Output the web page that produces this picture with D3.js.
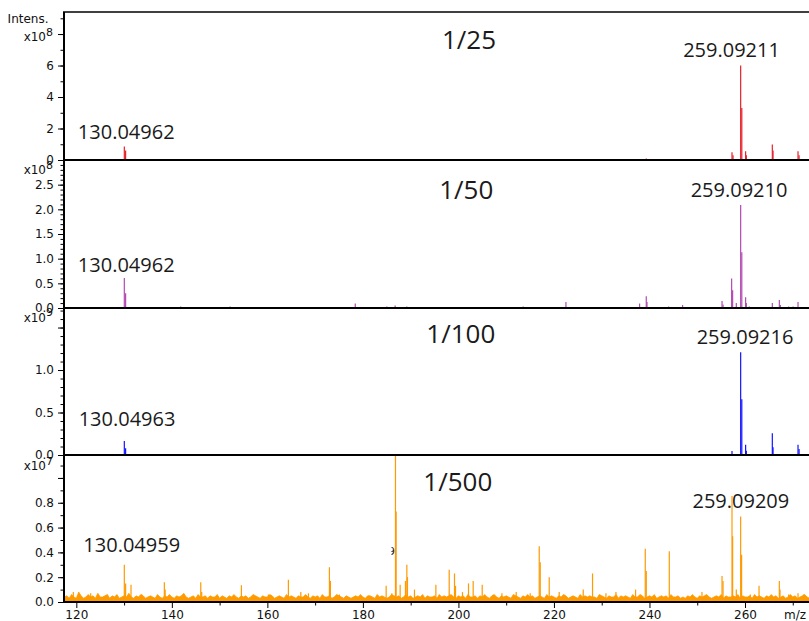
<!DOCTYPE html>
<html>
<head>
<meta charset="utf-8">
<script src="https://cdn.jsdelivr.net/npm/d3@7"></script>
<style>
  body { margin: 0; background: #fff; }
  svg { display: block; }
</style>
</head>
<body>
<svg id="chart" width="809" height="621"></svg>
<script>
// ---- data -------------------------------------------------------------
const mzDomain = [117.42, 273.4];
const dilutions = ["1/25", "1/50", "1/100", "1/500"];
const exponents = [8, 8, 9, 7];
const yMax = [9.4, 3.0, 1.73, 1.185];          // top of each panel, in units of 10^exp
const baseLabels = ["130.04962", "130.04962", "130.04963", "130.04959"];
const mainLabels = ["259.09211", "259.09210", "259.09216", "259.09209"];

// sticks: [m/z, intensity in units of 10^exp]
const sticks25 = [
  [130.04962, 0.85], [130.32, 0.6], [152.19, 0.02], [159.31, 0.02], [186.75, 0.03],
  [239.33, 0.1], [255.19, 0.03], [257.28, 0.49], [257.49, 0.3],
  [259.09211, 6.0], [259.33, 3.3], [260.13, 0.55], [260.28, 0.3],
  [265.72, 0.98], [265.87, 0.6], [271.1, 0.55], [271.32, 0.3]
];
const sticks50 = [
  [130.04962, 0.61], [130.32, 0.3], [141.86, 0.03], [152.19, 0.03], [168.05, 0.02],
  [169.43, 0.02], [178.4, 0.09], [185.01, 0.03], [186.75, 0.05], [189.2, 0.03],
  [195.2, 0.02], [199.1, 0.02], [209.1, 0.02], [213.55, 0.03], [215.73, 0.02],
  [217.82, 0.02], [222.51, 0.12], [226.9, 0.02], [231.79, 0.02], [232.84, 0.02],
  [234.03, 0.02], [237.17, 0.02], [237.93, 0.09], [239.33, 0.24], [239.48, 0.12],
  [241.9, 0.02], [244.0, 0.03], [245.97, 0.02], [246.93, 0.06], [255.19, 0.14],
  [255.4, 0.07], [257.2, 0.6], [257.41, 0.36], [258.18, 0.1],
  [259.0921, 2.09], [259.33, 1.13], [260.13, 0.22], [260.28, 0.1], [260.9, 0.03],
  [265.72, 0.1], [267.19, 0.16], [267.4, 0.06], [269.14, 0.03], [270.06, 0.03], [271.1, 0.12]
];
const sticks100 = [
  [130.04963, 0.165], [130.32, 0.08], [152.19, 0.005], [159.31, 0.005], [162.66, 0.004],
  [189.75, 0.006], [232.98, 0.008], [239.33, 0.01], [257.28, 0.047],
  [259.09216, 1.21], [259.33, 0.655], [260.13, 0.12], [260.28, 0.05],
  [265.72, 0.255], [265.87, 0.09], [271.1, 0.12], [271.32, 0.07]
];
const sticks500 = [
  [119.37, 0.08], [123.01, 0.07], [130.04959, 0.30], [130.32, 0.15], [131.45, 0.14],
  [133.7, 0.06], [138.43, 0.16], [138.6, 0.1], [146.05, 0.16], [146.25, 0.08],
  [154.56, 0.135], [160.21, 0.06], [164.4, 0.18], [167.0, 0.08], [168.6, 0.07],
  [172.99, 0.28], [173.2, 0.17], [175.09, 0.06], [184.87, 0.13], [186.06, 0.07],
  [186.82, 1.3], [186.96, 0.73], [187.8, 0.14], [188.91, 0.17], [189.2, 0.30],
  [189.33, 0.2], [190.8, 0.1], [195.28, 0.14], [198.07, 0.26], [199.18, 0.23],
  [199.39, 0.13], [200.85, 0.08], [202.11, 0.15], [203.09, 0.17], [204.98, 0.14],
  [209.1, 0.07], [212.1, 0.08], [215.03, 0.07], [216.92, 0.45], [217.13, 0.32],
  [219.01, 0.2], [221.1, 0.08], [226.13, 0.1], [228.08, 0.23], [230.89, 0.07],
  [232.98, 0.08], [237.09, 0.1], [239.12, 0.43], [239.33, 0.25], [244.15, 0.41],
  [250.99, 0.08], [255.19, 0.21], [255.4, 0.17], [257.28, 0.855], [257.41, 0.53],
  [258.18, 0.1], [259.09209, 0.69], [259.29, 0.38], [261.12, 0.06], [262.94, 0.13],
  [267.19, 0.17], [267.33, 0.1], [269.14, 0.06], [271.1, 0.07], [272.28, 0.06]
];
const sticks = [sticks25, sticks50, sticks100, sticks500];

// baseline noise of the 1/500 trace, every 0.5 m/z from 117.5, in units of 10^5
const noiseStart = 117.5, noiseStep = 0.5;
const noise500 = [
  4,5,3,6,4,3,8,5,3,4,6,4,5,3,7,4,4,5,6,3,
  5,4,6,3,4,5,4,7,4,3,5,4,6,5,3,4,5,4,3,6,
  4,3,5,4,6,4,3,5,4,5,7,4,3,4,5,3,6,4,4,5,
  3,5,4,4,6,3,5,4,3,5,4,6,4,3,5,4,5,3,4,6,
  5,4,3,5,4,4,6,5,3,4,5,4,3,6,4,5,4,3,5,4,
  4,6,4,3,5,4,5,3,6,4,4,5,3,4,6,5,4,3,5,4,
  3,4,5,4,6,4,3,5,5,4,3,6,4,5,4,3,4,6,5,4,
  5,3,4,6,4,5,3,4,5,4,6,3,5,4,4,5,3,6,4,5,
  4,5,6,4,3,5,4,5,3,6,4,4,5,3,5,4,6,4,3,5,
  6,4,3,5,4,5,4,3,6,5,4,3,5,4,6,4,5,3,4,5,
  4,3,6,4,5,4,3,5,4,6,5,3,4,5,4,3,6,4,5,4,
  5,4,4,3,6,5,4,3,5,4,4,6,3,5,4,5,4,3,6,4,
  4,6,5,3,4,5,4,6,3,4,5,4,5,3,6,4,4,5,3,4,
  3,5,4,6,4,3,5,4,5,6,4,3,4,5,4,6,3,5,4,4,
  5,4,6,3,5,4,4,5,3,6,4,5,4,3,5,4,6,4,5,3,
  4,5,3,4,6,4,5,3,4,5,6,4,3,5,4,4,6,5,3,4
];

// axis ticks per panel
const majorTicks = [
  [0, 2, 4, 6, 8],
  [0, 0.5, 1.0, 1.5, 2.0, 2.5, 3.0],
  [0, 0.5, 1.0, 1.5],
  [0, 0.2, 0.4, 0.6, 0.8, 1.0]
];
const labelledTicks = [
  [0, 2, 4, 6],
  [0, 0.5, 1.0, 1.5, 2.0, 2.5],
  [0, 0.5, 1.0],
  [0, 0.2, 0.4, 0.6, 0.8]
];
const minorStep = [1, 0.1, 0.1, 0.1];
const tickFormats = ["d", ".1f", ".1f", ".1f"];
const xMajorTicks = [120, 140, 160, 180, 200, 220, 240, 260];
const xMinorTicks = [130, 150, 170, 190, 210, 230, 250, 270];

// ---- layout & style ---------------------------------------------------
const colors = ["#e8202a", "#b44ab4", "#1414ff", "#ff9a00"];
const plotLeft = 64, plotRight = 809;
const panelEdges = [12, 160, 308, 455, 602];
const titlePos = [[469, 49.3], [466.3, 199.3], [460.8, 343.3], [457.8, 490.7]];
const baseLabelOff = [[1.9, 127.3], [1.9, 111.7], [2.7, 117.7], [7.4, 97.3]];
const mainLabelOff = [[-9.1, 44.7], [-1.6, 36.7], [4.4, 36.3], [0.2, 53.3]];
const expBaseline = [41, 174.3, 321.7, 470];

const svg = d3.select("#chart");
const defs = svg.append("defs");
const x = d3.scaleLinear().domain(mzDomain).range([plotLeft, plotRight]);

const axisFont = "'DejaVu Sans', Verdana, sans-serif";
const annFont = "'Open Sans', 'Noto Sans', sans-serif";

function styleAxis(sel) {
  sel.select(".domain").remove();
  sel.selectAll(".tick line").attr("stroke", "#000").attr("stroke-width", 1);
  sel.selectAll(".tick text").attr("fill", "#111")
    .style("font-family", axisFont).style("font-size", "12px");
}

// stick whose m/z equals the value printed in a label
function stickFor(list, label) {
  const v = parseFloat(label);
  return list.reduce((best, d) => Math.abs(d[0] - v) < Math.abs(best[0] - v) ? d : best, list[0]);
}

dilutions.forEach((title, i) => {
  const top = panelEdges[i], bottom = panelEdges[i + 1];
  const y = d3.scaleLinear().domain([0, yMax[i]]).range([bottom, top]);
  const g = svg.append("g");

  defs.append("clipPath").attr("id", "clip" + i)
    .append("rect").attr("x", plotLeft).attr("y", top)
    .attr("width", plotRight - plotLeft).attr("height", bottom - top);
  const plot = g.append("g").attr("clip-path", `url(#clip${i})`);

  if (i === 3) {
    const pts = noise500.map((v, k) => [noiseStart + k * noiseStep, v / 100]);
    plot.append("path").datum(pts)
      .attr("d", d3.area().x(d => x(d[0])).y0(y(0)).y1(d => y(d[1])))
      .attr("fill", colors[i]).attr("stroke", colors[i]).attr("stroke-width", 0.8);
  }

  plot.selectAll("line.peak").data(sticks[i]).join("line")
    .attr("class", "peak")
    .attr("x1", d => x(d[0])).attr("x2", d => x(d[0]))
    .attr("y1", y(0)).attr("y2", d => y(d[1]))
    .attr("stroke", colors[i]).attr("stroke-width", 1.2);

  // y axis: minor then major ticks
  const minor = d3.range(0, yMax[i] + 1e-9, minorStep[i]).map(v => +v.toFixed(3));
  g.append("g").attr("transform", `translate(${plotLeft},0)`)
    .call(d3.axisLeft(y).tickValues(minor).tickSize(3.5).tickSizeOuter(0).tickFormat(""))
    .call(styleAxis);
  const fmt = d3.format(tickFormats[i]);
  const lab = labelledTicks[i];
  g.append("g").attr("transform", `translate(${plotLeft},0)`)
    .call(d3.axisLeft(y).tickValues(majorTicks[i]).tickSize(6).tickPadding(4).tickSizeOuter(0)
      .tickFormat(v => lab.some(t => Math.abs(t - v) < 1e-9) ? fmt(v) : ""))
    .call(styleAxis);

  // exponent label
  g.append("text").attr("x", 46).attr("y", expBaseline[i]).attr("text-anchor", "end")
    .style("font-family", axisFont).style("font-size", "12px").attr("fill", "#111").text("x10");
  g.append("text").attr("x", 46).attr("y", expBaseline[i] - 5.5)
    .style("font-family", axisFont).style("font-size", "11px").attr("fill", "#111").text(exponents[i]);

  // dilution title
  g.append("text").attr("x", titlePos[i][0]).attr("y", titlePos[i][1]).attr("text-anchor", "middle")
    .style("font-family", annFont).style("font-size", "26px").attr("fill", "#1a1a1a").text(title);

  // peak annotations, placed over the sticks they name
  const baseMz = stickFor(sticks[i], baseLabels[i])[0];
  const mainMz = stickFor(sticks[i], mainLabels[i])[0];
  g.append("text").attr("x", x(baseMz) + baseLabelOff[i][0]).attr("y", top + baseLabelOff[i][1])
    .attr("text-anchor", "middle").style("font-family", annFont).style("font-size", "20px")
    .attr("fill", "#1a1a1a").text(baseLabels[i]);
  g.append("text").attr("x", x(mainMz) + mainLabelOff[i][0]).attr("y", top + mainLabelOff[i][1])
    .attr("text-anchor", "middle").style("font-family", annFont).style("font-size", "20px")
    .attr("fill", "#1a1a1a").text(mainLabels[i]);
});

// partly hidden label fragment beside the 186.8 peak
defs.append("clipPath").attr("id", "fragClip")
  .append("rect").attr("x", 391.5).attr("y", 540).attr("width", 8).attr("height", 20);
svg.append("text").attr("x", 388).attr("y", 554.5).attr("clip-path", "url(#fragClip)")
  .style("font-family", axisFont).style("font-size", "11px").attr("fill", "#222").text("9");

// intensity caption
svg.append("text").attr("x", 48.5).attr("y", 22.7).attr("text-anchor", "end")
  .style("font-family", axisFont).style("font-size", "12px").attr("fill", "#111").text("Intens.");

// x axis
const xAxisY = panelEdges[4];
svg.append("g").attr("transform", `translate(0,${xAxisY})`)
  .call(d3.axisBottom(x).tickValues(xMinorTicks).tickSize(3.5).tickSizeOuter(0).tickFormat(""))
  .call(styleAxis);
svg.append("g").attr("transform", `translate(0,${xAxisY})`)
  .call(d3.axisBottom(x).tickValues(xMajorTicks).tickSize(6).tickPadding(2.5).tickSizeOuter(0).tickFormat(d3.format("d")))
  .call(styleAxis);
svg.append("text").attr("x", 784).attr("y", 619)
  .style("font-family", axisFont).style("font-size", "12px").attr("fill", "#111").text("m/z");

// frame: left axis line and panel separators
svg.append("line").attr("x1", plotLeft).attr("x2", plotLeft)
  .attr("y1", panelEdges[0]).attr("y2", panelEdges[4])
  .attr("stroke", "#000").attr("stroke-width", 2);
svg.selectAll("line.sep").data(panelEdges).join("line").attr("class", "sep")
  .attr("x1", plotLeft - 1).attr("x2", plotRight)
  .attr("y1", d => d).attr("y2", d => d)
  .attr("stroke", "#000").attr("stroke-width", (d, k) => k === 0 ? 1.5 : 2.2);
</script>
</body>
</html>
